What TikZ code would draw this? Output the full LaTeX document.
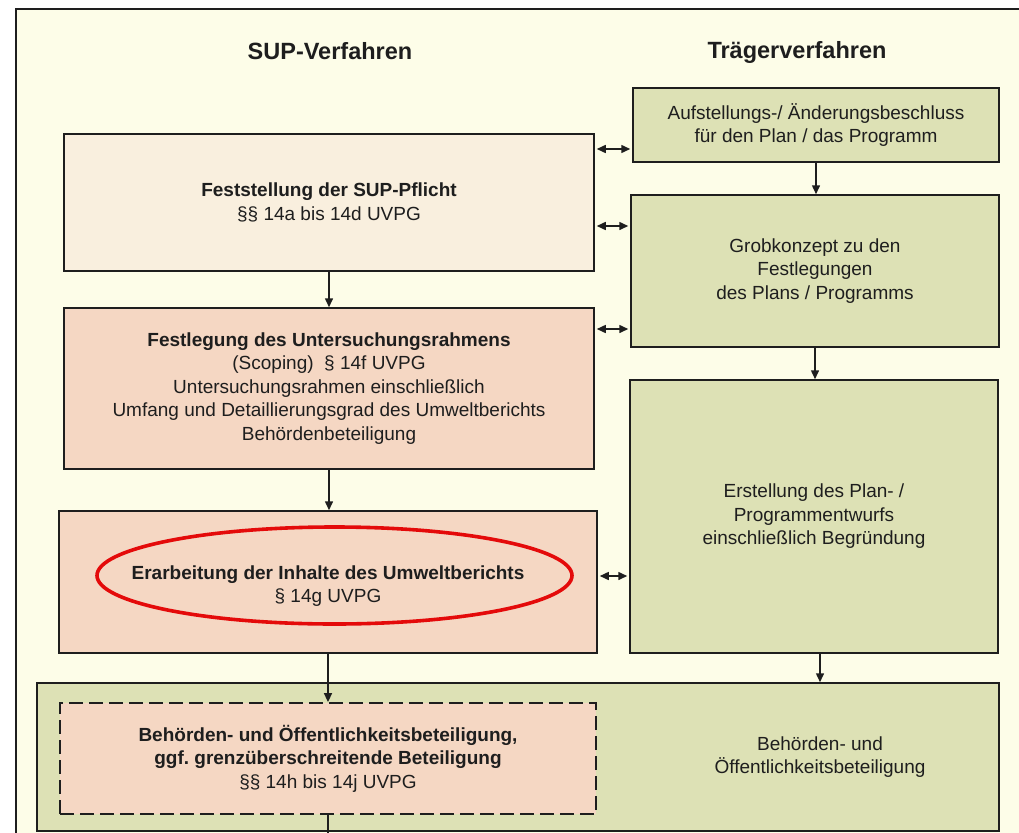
\documentclass[tikz,border=0pt]{standalone}
\usepackage{fontspec}
\setmainfont{Liberation Sans}
\usetikzlibrary{arrows.meta,shapes.geometric}
\frenchspacing
\definecolor{cream}{RGB}{253,253,232}
\definecolor{beigefill}{RGB}{249,239,222}
\definecolor{salmon}{RGB}{245,215,195}
\definecolor{olive}{RGB}{221,225,181}
\definecolor{ink}{RGB}{30,30,30}
\definecolor{ringred}{RGB}{228,10,10}
\tikzset{
  box/.style={draw=ink, line width=1.5pt, rectangle, inner sep=0pt, align=center,
    font=\fontsize{19}{23.5}\selectfont, text=ink},
  dashbox/.style={box, line width=1.8pt, dash pattern=on 14pt off 6pt},
  title/.style={font=\fontsize{23.5}{28}\selectfont\bfseries, text=ink},
  plain/.style={font=\fontsize{19}{23.5}\selectfont, text=ink, align=center},
  conn/.style={draw=ink, line width=1.5pt, -{Triangle[length=9pt,width=8pt]}},
  dbl/.style={draw=ink, line width=1.5pt, {Triangle[length=9pt,width=8pt]}-{Triangle[length=9pt,width=8pt]}, shorten <=2pt, shorten >=2pt},
  ring/.style={draw=ringred, line width=3.6pt, ellipse, inner sep=0pt}
}
\begin{document}
\begin{tikzpicture}[x=1pt,y=-1pt]
\useasboundingbox (0,0) rectangle (1019,832);
\clip (0,0) rectangle (1019,832);
\fill[white] (0,0) rectangle (1019,832);
% outer frame
\draw[draw=ink, line width=1.6pt, fill=cream] (16,9) rectangle (1040,860);
% titles
\node[title] (t1) at (330,51) {SUP-Verfahren};
\node[title] (t2) at (797,52) {Trägerverfahren};
% left column
\node[box, fill=beigefill, minimum width=530pt, minimum height=137pt] (fest) at (329,202.5)
  {\textbf{Feststellung der SUP-Pflicht}\\§§ 14a bis 14d UVPG};
\node[box, fill=salmon, minimum width=530pt, minimum height=161pt] (festl) at (329,388.5)
  {\textbf{Festlegung des Untersuchungsrahmens}\\(Scoping)\ \ § 14f UVPG\\Untersuchungsrahmen einschließlich\\Umfang und Detaillierungsgrad des Umweltberichts\\Behördenbeteiligung};
\node[box, fill=salmon, minimum width=538pt, minimum height=142pt] (erarb) at (328,582) {};
\node[plain] (erarbtext) at (328,586)
  {\textbf{Erarbeitung der Inhalte des Umweltberichts}\\§ 14g UVPG};
% right column
\node[box, fill=olive, minimum width=366pt, minimum height=74pt] (auf) at (816,125)
  {Aufstellungs-/ Änderungsbeschluss\\für den Plan / das Programm};
\node[box, fill=olive, minimum width=368pt, minimum height=152pt] (grob) at (815,271)
  {Grobkonzept zu den\\Festlegungen\\des Plans / Programms};
\node[box, fill=olive, minimum width=368pt, minimum height=273pt] (erst) at (814,516.5)
  {Erstellung des Plan- /\\Programmentwurfs\\einschließlich Begründung};
% bottom
\node[box, fill=olive, minimum width=962pt, minimum height=148pt] (beteil) at (518,757) {};
\node[plain] (beteiltext) at (820,757) {Behörden- und\\Öffentlichkeitsbeteiligung};
\node[dashbox, fill=salmon, minimum width=536pt, minimum height=111pt] (dash) at (328,758.5)
  {\textbf{Behörden- und Öffentlichkeitsbeteiligung,}\\\textbf{ggf. grenzüberschreitende Beteiligung}\\§§ 14h bis 14j UVPG};
% red ellipse
\node[ring, minimum width=475pt, minimum height=97pt] (ringnode) at (334.5,575.5) {};
% helper coordinates
\coordinate (ya) at (0,149);
\coordinate (yb) at (0,226);
\coordinate (yc) at (0,329);
\coordinate (yd) at (0,576);
\coordinate (offbottom) at (328,850);
% vertical connectors
\draw[conn] (fest.south) -- (fest.south |- festl.north);
\draw[conn] (festl.south) -- (festl.south |- erarb.north);
\draw[conn] (erarb.south) -- (erarb.south |- dash.north);
\draw[draw=ink, line width=1.5pt] (dash.south) -- (dash.south |- offbottom);
\draw[conn] (auf.south) -- (auf.south |- grob.north);
\draw[conn] (grob.south) -- (grob.south |- erst.north);
\draw[conn] ([xshift=6pt]erst.south) -- ([xshift=6pt]erst.south |- beteil.north);
% horizontal double arrows
\draw[dbl] (fest.east |- ya) -- (auf.west |- ya);
\draw[dbl] (fest.east |- yb) -- (grob.west |- yb);
\draw[dbl] (festl.east |- yc) -- (grob.west |- yc);
\draw[dbl] (erarb.east |- yd) -- (erst.west |- yd);
\end{tikzpicture}
\end{document}
